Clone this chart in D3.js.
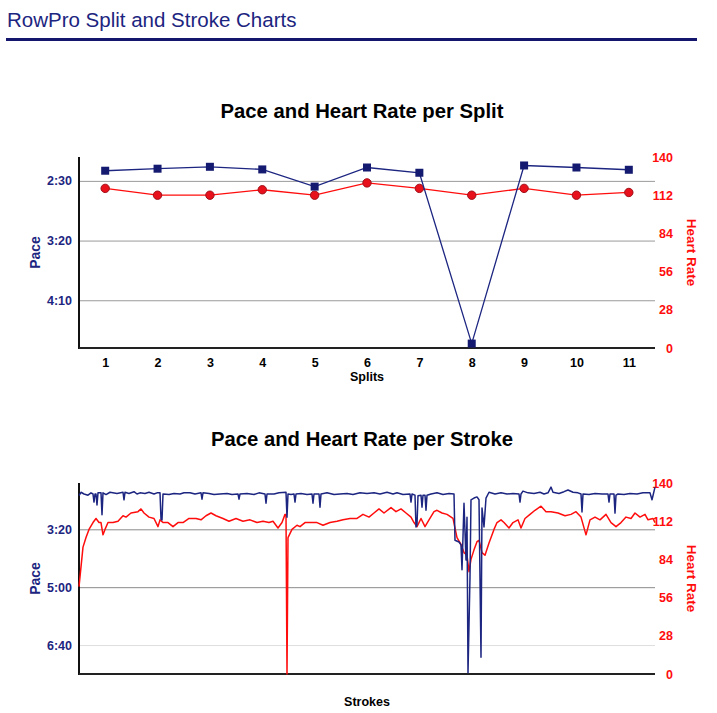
<!DOCTYPE html>
<html><head><meta charset="utf-8">
<script src="https://cdn.jsdelivr.net/npm/d3@7"></script>
<style>
body{margin:0;background:#fff;}
text{font-family:"Liberation Sans",Arial,Helvetica,sans-serif;}
</style>
</head><body>
<svg id="c" width="717" height="713"></svg>
<script>
// ---------------- DATA ----------------
const splits = [1,2,3,4,5,6,7,8,9,10,11];
const splitPace = [141.5,139.8,138.2,140.4,154.8,138.8,143.2,286.3,137.1,138.8,140.7]; // seconds / 500m
const splitHR = [117,112,112,116,112,121,117,112,117,112,114];

const paceTicksSplit = [150,200,250];
const paceTicksStroke = [200,300,400];
const hrTicks = [0,28,56,84,112,140];

// [stroke number, pace seconds]
const strokePace = [
[0,142],[2,136],[5,139],[9,141],[12,137],[14,139],[15,153],[16,139],[17,139],[18,158],[19,137],
[22,137],[23,175],[24,137],[27,140],[31,136],[38,138],[44,136],[45,149],[46,136],[50,138],[55,135],[58,139],
[61,137],[66,138],[70,136],[75,139],[78,137],[81,137],[82,182],[83,184],
[84,139],[90,140],[95,138],[101,139],[105,137],[111,137],[116,139],[122,137],[123,148],[124,137],
[130,138],[135,140],[141,139],[148,138],[153,140],[159,139],[160,148],[161,139],
[168,138],[175,140],[180,137],[186,139],[187,155],[188,139],[195,139],[200,137],[207,136],[208,179],[209,139],
[212,140],[215,139],[216,153],[217,139],[222,138],[228,140],[233,139],
[234,155],[235,139],[240,139],[241,162],[242,139],[248,137],[255,140],[261,139],[268,138],[274,140],
[281,137],[288,138],[295,137],[301,139],[308,136],[314,139],[318,137],[324,140],[331,139],[332,153],
[333,139],[336,141],[337,196],[338,192],[339,142],[342,141],[343,162],[344,141],[346,141],[347,167],
[348,141],[352,139],[358,137],[364,140],[370,138],[375,139],[376,219],[380,222],[382,227],[383,270],[385,155],[387,253],[388,179],
[389,448],[391,282],[392,149],[395,146],[398,144],[400,149],[402,421],[403,163],[405,196],[407,146],
[410,136],[416,139],[422,137],[428,139],[434,138],[440,139],[441,153],[442,139],[444,134],[449,137],
[455,138],[461,136],[465,139],[469,137],[472,127],[474,136],[480,138],[485,135],
[489,132],[494,136],[499,137],[502,139],[503,170],[504,139],[510,140],[516,138],[523,139],[529,139],[530,153],[531,139],[535,139],[536,172],
[537,141],[539,139],[545,140],[551,138],[558,139],[564,137],[571,137],[573,149],[576,127]
];
// [stroke number, heart rate]
const strokeHR = [
[0,64],[4,93],[7,100],[10,106],[14,111],[17,114],[20,111],[22,111],[24,102],[26,106],[29,111],
[34,111],[39,112],[44,116],[47,115],[52,118],[59,119],[62,121],[65,118],[70,115],[75,114],[79,108],
[81,113],[84,111],[89,111],[94,108],[99,111],[104,111],[110,114],[117,114],[122,113],[127,116],
[132,118],[137,116],[144,114],[150,112],[157,114],[164,112],[171,113],[178,111],[184,112],[190,111],
[194,112],[199,107],[203,111],[206,117],[207,117],[208,0],[209,100],[213,106],[218,109],[221,108],
[226,111],[231,111],[238,111],[244,109],[251,111],[258,112],[264,113],[271,114],[278,114],[284,117],
[290,115],[295,118],[300,121],[305,118],[312,122],[317,119],[322,121],[327,118],[332,115],[335,111],
[338,108],[342,114],[346,108],[350,113],[355,119],[358,120],[363,118],[368,117],[374,114],[378,100],
[382,95],[385,89],[388,87],[390,75],[392,84],[395,91],[398,97],[400,98],[403,89],[406,87],[410,96],
[415,106],[418,111],[422,113],[425,111],[430,107],[434,111],[439,113],[442,107],[446,114],[451,117],
[456,120],[462,123],[467,119],[472,119],[479,118],[486,116],[492,117],[497,119],[502,115],[507,102],
[511,113],[516,115],[521,113],[527,117],[532,111],[537,108],[542,111],[547,115],[552,114],[556,118],
[561,115],[566,117],[569,113],[574,114],[576,111]
];
const strokeDomain = [0,576];

// ---------------- DRAW ----------------
const NAVY = "#1c2580", RED = "#ff0d0d";
const FONT = '"Liberation Sans",Arial,Helvetica,sans-serif';
const svg = d3.select("#c");
const L = 79, R = 655;
const fmt = s => Math.floor(s/60) + ":" + String(Math.round(s%60)).padStart(2,"0");

// header
svg.append("text").attr("x",7).attr("y",27).attr("font-size",20.5).attr("fill",NAVY).text("RowPro Split and Stroke Charts");
svg.append("line").attr("x1",6).attr("x2",697).attr("y1",39.5).attr("y2",39.5).attr("stroke","#14166e").attr("stroke-width",3);

function panel(o){
  const pace = d3.scaleLinear().domain(o.paceDomain).range([o.top,o.bottom]);
  const hr = d3.scaleLinear().domain([0,140]).range([o.bottom,o.top]);
  svg.append("text").attr("x",362).attr("y",o.titleY).attr("text-anchor","middle")
    .attr("font-size",o.titleSize).attr("font-weight","bold").attr("fill","#000").text(o.title);
  const gl = svg.append("g").attr("transform",`translate(${L},0)`)
    .call(d3.axisLeft(pace).tickValues(o.paceTicks).tickSize(-(R-L)).tickFormat(fmt).tickPadding(7));
  gl.select(".domain").remove();
  gl.selectAll(".tick line").attr("stroke",(d,i)=>o.gridColors[i]).attr("stroke-width",1);
  gl.selectAll(".tick text").attr("font-size",12.5).attr("font-weight","bold").attr("fill",NAVY).style("font-family",FONT);
  const gr = svg.append("g").attr("transform",`translate(${R+18},0)`)
    .call(d3.axisRight(hr).tickValues(hrTicks).tickSize(0).tickPadding(0));
  gr.select(".domain").remove();
  gr.selectAll(".tick text").attr("text-anchor","end").attr("font-size",12.5).attr("font-weight","bold").attr("fill",RED).style("font-family",FONT);
  svg.append("text").attr("transform",`translate(40,${(o.top+o.bottom)/2}) rotate(-90)`).attr("text-anchor","middle")
    .attr("font-size",14).attr("font-weight","bold").attr("fill",NAVY).text("Pace");
  svg.append("text").attr("transform",`translate(687,${(o.top+o.bottom)/2}) rotate(90)`).attr("text-anchor","middle")
    .attr("font-size",13.5).attr("font-weight","bold").attr("fill",RED).text("Heart Rate");
  svg.append("text").attr("x",367).attr("y",o.xLabelY).attr("text-anchor","middle")
    .attr("font-size",12.5).attr("font-weight","bold").attr("fill","#000").text(o.xLabel);
  return {pace,hr};
}
function frame(o){
  svg.append("line").attr("x1",L).attr("x2",L).attr("y1",o.top).attr("y2",o.bottom+1).attr("stroke","#111").attr("stroke-width",2);
  svg.append("line").attr("x1",L).attr("x2",R).attr("y1",o.bottom).attr("y2",o.bottom).attr("stroke","#222").attr("stroke-width",2);
}

// ---- split chart ----
const o1 = {top:157,bottom:348,paceDomain:[130,290],paceTicks:paceTicksSplit,gridColors:["#9a9a9a","#9a9a9a","#9a9a9a"],
  title:"Pace and Heart Rate per Split",titleY:118,titleSize:20.3,xLabel:"Splits",xLabelY:381};
const s1 = panel(o1);
const x1 = d3.scalePoint().domain(splits).range([L,R]).padding(0.5);
const ax1 = svg.append("g").attr("transform",`translate(0,${o1.bottom})`).call(d3.axisBottom(x1).tickSize(0).tickPadding(10));
ax1.select(".domain").remove();
ax1.selectAll(".tick text").attr("font-size",12.5).attr("font-weight","bold").attr("fill","#000").style("font-family",FONT);
frame(o1);
const hrLine1 = d3.line().x((d,i)=>x1(splits[i])).y(d=>s1.hr(d));
const paceLine1 = d3.line().x((d,i)=>x1(splits[i])).y(d=>s1.pace(d));
svg.append("path").attr("d",hrLine1(splitHR)).attr("fill","none").attr("stroke",RED).attr("stroke-width",1.3);
svg.selectAll(".hrdot").data(splitHR).enter().append("circle")
  .attr("cx",(d,i)=>x1(splits[i])).attr("cy",d=>s1.hr(d)).attr("r",4.2)
  .attr("fill","#e8101a").attr("stroke","#a0101a").attr("stroke-width",1);
svg.append("path").attr("d",paceLine1(splitPace)).attr("fill","none").attr("stroke",NAVY).attr("stroke-width",1.3);
svg.selectAll(".pdot").data(splitPace).enter().append("rect")
  .attr("x",(d,i)=>x1(splits[i])-4).attr("y",d=>s1.pace(d)-4).attr("width",8).attr("height",8)
  .attr("fill","#141a70");

// ---- stroke chart ----
const o2 = {top:483,bottom:674,paceDomain:[120,450],paceTicks:paceTicksStroke,gridColors:["#8a8a8a","#8a8a8a","#dedede"],
  title:"Pace and Heart Rate per Stroke",titleY:446,titleSize:20.3,xLabel:"Strokes",xLabelY:706};
const s2 = panel(o2);
const x2 = d3.scaleLinear().domain(strokeDomain).range([L,R]);
frame(o2);
const hrLine2 = d3.line().x(d=>x2(d[0])).y(d=>s2.hr(d[1]));
const paceLine2 = d3.line().x(d=>x2(d[0])).y(d=>s2.pace(d[1]));
svg.append("path").attr("d",hrLine2(strokeHR)).attr("fill","none").attr("stroke",RED).attr("stroke-width",1.5).attr("stroke-linejoin","round");
svg.append("path").attr("d",paceLine2(strokePace)).attr("fill","none").attr("stroke",NAVY).attr("stroke-width",1.5).attr("stroke-linejoin","round");
</script>
</body></html>
